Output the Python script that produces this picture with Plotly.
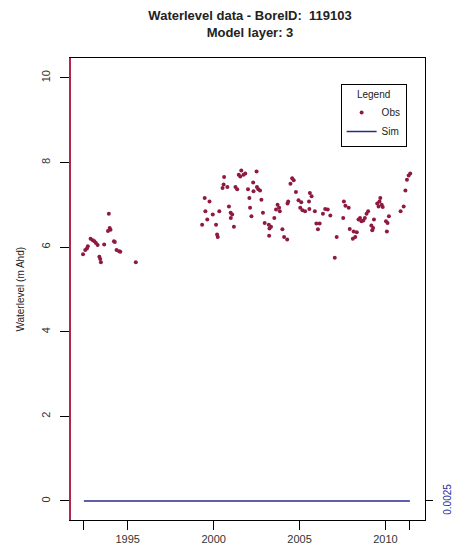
import plotly.graph_objects as go

# ---- data ----
obs_year = [1992.40, 1992.53, 1992.63, 1992.68, 1992.84, 1992.97, 1993.06, 1993.15, 1993.25,
            1993.35, 1993.40, 1993.44, 1993.63, 1993.85, 1993.90, 1993.95, 1994.00, 1994.20,
            1994.25, 1994.35, 1994.50, 1994.57, 1995.47,
            1999.33, 1999.48, 1999.52, 1999.63, 1999.76, 1999.95, 2000.14, 2000.20, 2000.24,
            2000.33, 2000.52, 2000.58, 2000.61, 2000.80, 2000.89, 2000.99, 2001.00, 2001.08,
            2001.18, 2001.27, 2001.37, 2001.46, 2001.55, 2001.61, 2001.74, 2001.84, 2002.00,
            2002.08, 2002.12, 2002.20, 2002.30, 2002.32, 2002.50, 2002.52, 2002.60, 2002.70,
            2002.78, 2002.87, 2002.97, 2003.21, 2003.23, 2003.25, 2003.34, 2003.53, 2003.63,
            2003.72, 2003.81, 2003.85, 2004.00, 2004.10, 2004.28, 2004.30, 2004.34, 2004.47,
            2004.57, 2004.66, 2004.79, 2004.94, 2005.04, 2005.10, 2005.17, 2005.32, 2005.55,
            2005.57, 2005.60, 2005.70, 2005.89, 2005.98, 2006.07, 2006.17, 2006.36, 2006.49,
            2006.64, 2006.79, 2007.05, 2007.16, 2007.54, 2007.58, 2007.67, 2007.86, 2007.92,
            2008.10, 2008.15, 2008.24, 2008.33, 2008.43, 2008.52, 2008.60, 2008.71, 2008.80,
            2008.90, 2008.99, 2009.18, 2009.23, 2009.28, 2009.33, 2009.52, 2009.60, 2009.65,
            2009.70, 2009.78, 2009.84, 2010.03, 2010.08, 2010.12, 2010.20, 2010.88, 2011.06,
            2011.16, 2011.25, 2011.35, 2011.44]
obs_level = [5.83, 5.93, 5.97, 6.02, 6.20, 6.16, 6.14, 6.10, 6.05,
             5.77, 5.72, 5.64, 6.06, 6.38, 6.79, 6.45, 6.41, 6.14,
             6.12, 5.93, 5.90, 5.89, 5.64,
             6.53, 7.16, 6.85, 6.65, 7.08, 6.77, 6.53, 6.30, 6.24,
             6.85, 7.40, 7.48, 7.66, 7.42, 6.96, 6.81, 6.69, 6.77,
             6.48, 7.42, 7.37, 7.71, 7.67, 7.81, 7.71, 7.74, 7.37,
             7.16, 6.93, 6.73, 7.53, 7.32, 7.79, 7.42, 7.37, 7.34,
             7.12, 6.81, 6.57, 6.53, 6.27, 6.44, 6.48, 6.69, 6.89,
             7.00, 6.93, 6.85, 6.42, 6.24, 6.18, 7.03, 7.08, 7.50,
             7.63, 7.58, 7.30, 7.11, 6.93, 7.06, 6.87, 6.85, 7.08,
             6.90, 7.28, 7.20, 6.85, 6.56, 6.42, 6.56, 6.79, 6.90,
             6.89, 6.75, 5.75, 6.24, 6.69, 7.08, 6.98, 6.93, 6.43,
             6.20, 6.37, 6.24, 6.35, 6.65, 6.69, 6.61, 6.63, 6.69,
             6.79, 6.85, 6.51, 6.40, 6.45, 6.65, 7.03, 6.96, 7.08,
             7.16, 7.00, 6.95, 6.61, 6.37, 6.57, 6.73, 6.85, 6.96,
             7.34, 7.59, 7.69, 7.74]

sim_year = [1992.45, 2011.42]
sim_level = [0.0025, 0.0025]

y_ticks = [0, 2, 4, 6, 8, 10]
x_ticks = [1992.45, 1995, 2000, 2005, 2010, 2011.42]
x_ticktext = ["", "1995", "2000", "2005", "2010", ""]
sim_ticks = [0.0025]
sim_ticktext = ["0.0025"]

title_text = "<b>Waterlevel data - BoreID:  119103<br>Model layer: 3</b>"
y_title = "Waterlevel (m Ahd)"

# ---- figure ----
y_range = [-0.45, 10.47]
s = 0.001
y2_range = [0.0025 + y_range[0] * s, 0.0025 + y_range[1] * s]

W, H = 465, 557

fig = go.Figure()
fig.add_trace(go.Scatter(
    x=obs_year, y=obs_level, mode="markers", name="Obs",
    marker=dict(size=4, color="#8e1a44", symbol="circle"),
))
fig.add_trace(go.Scatter(
    x=sim_year, y=sim_level, mode="lines", name="Sim", yaxis="y2",
    line=dict(color="#2a2a8c", width=1.5),
))

font_family = "Liberation Sans, Arial, sans-serif"
fig.update_layout(
    width=W, height=H,
    margin=dict(l=71, r=29, t=58, b=36),
    paper_bgcolor="white", plot_bgcolor="white",
    font=dict(family=font_family, size=11, color="#333"),
    title=dict(text=title_text, x=250 / W, xanchor="center",
               yref="container", y=1 - 20 / H, yanchor="middle",
               font=dict(size=13, color="#222", family=font_family)),
    showlegend=True,
    legend=dict(
        x=(349 - 71) / 365, y=(521 - 84) / 463, xanchor="left", yanchor="top",
        bordercolor="black", borderwidth=1, bgcolor="white",
        title=dict(text="Legend", side="top center", font=dict(size=10, color="#222")),
        font=dict(size=10, color="#222"),
        itemwidth=30, tracegroupgap=0,
    ),
    xaxis=dict(
        range=[1991.7, 2012.3], tickvals=x_ticks, ticktext=x_ticktext,
        showgrid=False, zeroline=False,
        showline=True, linecolor="black", linewidth=1.2, mirror=True,
        ticks="outside", ticklen=9, tickcolor="black", tickwidth=1.2,
        tickfont=dict(size=11, color="#333"),
    ),
    yaxis=dict(
        range=y_range, tickvals=y_ticks, tickangle=-90,
        showgrid=False, zeroline=False,
        showline=True, linecolor="#b0284e", linewidth=1.5,
        ticks="outside", ticklen=9, tickcolor="black", tickwidth=1.2,
        ticklabelstandoff=6,
        tickfont=dict(size=11, color="#333"),
    ),
    yaxis2=dict(
        range=y2_range, overlaying="y", side="right",
        tickvals=sim_ticks, ticktext=sim_ticktext, tickangle=-90,
        showgrid=False, zeroline=False,
        showline=True, linecolor="black", linewidth=1.2,
        ticks="outside", ticklen=7, tickcolor="black", tickwidth=1.2,
        ticklabelstandoff=6,
        tickfont=dict(size=10, color="#2a2a9c"),
    ),
    annotations=[dict(
        text=y_title, textangle=-90, xref="paper", yref="paper",
        x=(18 - 71) / 365, y=0.5, xanchor="center", yanchor="middle", showarrow=False,
        font=dict(size=10, color="#222"),
    )],
)

fig.write_html("out.html",
               config={"displayModeBar": False},
               post_script="document.body.style.margin='0';document.body.style.overflow='hidden';")
